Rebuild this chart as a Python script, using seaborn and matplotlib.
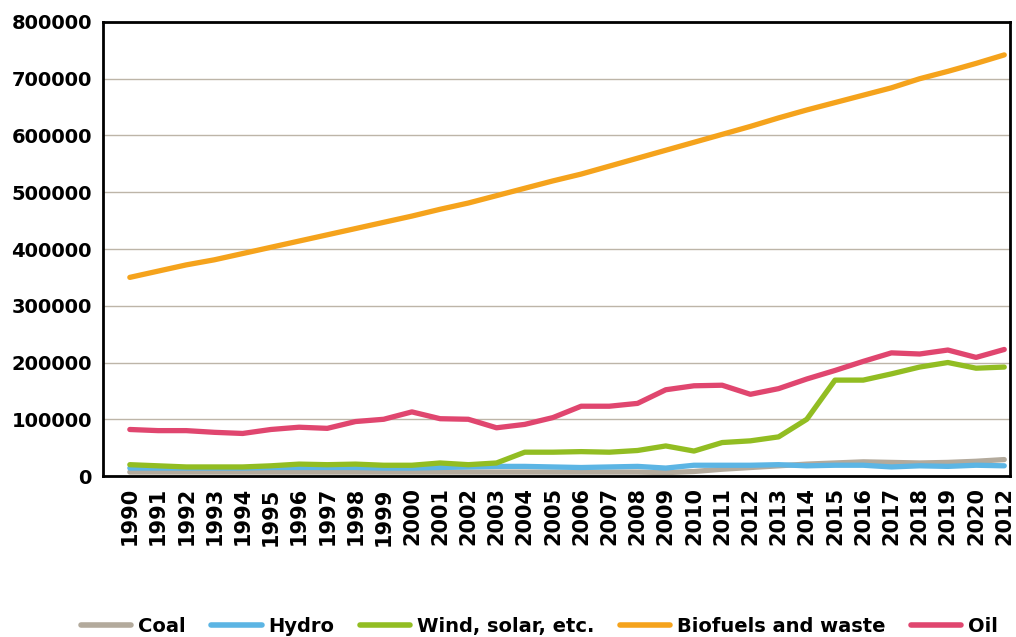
import numpy as np
import pandas as pd
import seaborn as sns
import matplotlib.pyplot as plt

# Data

years = list(range(1990, 2022))
# the source chart labels the last year "2012", kept as is
year_labels = [str(y) for y in range(1990, 2021)] + ["2012"]

coal = [7000, 7000, 7000, 7000, 7000, 7000, 7000, 7000, 7000, 7000,
        7000, 7000, 7000, 7000, 7000, 7000, 7000, 7000, 7000, 6000,
        8000, 12000, 15000, 18000, 21000, 23000, 25000, 24000, 23000, 24000,
        26000, 29000]
hydro = [14000, 14000, 14000, 14000, 14000, 15000, 15000, 15000, 15000, 14000,
         14000, 15000, 16000, 17000, 17000, 16000, 15000, 16000, 17000, 14000,
         19000, 19000, 19000, 20000, 18000, 19000, 19000, 16000, 18000, 17000,
         19000, 18000]
wind = [20000, 18000, 16000, 16000, 16000, 18000, 21000, 20000, 21000, 19000,
        19000, 23000, 20000, 23000, 42000, 42000, 43000, 42000, 45000, 53000,
        44000, 59000, 62000, 69000, 100000, 169000, 169000, 180000, 192000, 200000,
        190000, 192000]
biofuels = [350000, 361000, 372000, 381000, 392000, 403000, 414000, 425000, 436000, 447000,
            458000, 470000, 481000, 494000, 507000, 520000, 532000, 546000, 560000, 574000,
            588000, 602000, 616000, 631000, 645000, 658000, 671000, 684000, 700000, 713000,
            727000, 742000]
oil = [82000, 80000, 80000, 77000, 75000, 82000, 86000, 84000, 96000, 100000,
       113000, 101000, 100000, 85000, 91000, 103000, 123000, 123000, 128000, 152000,
       159000, 160000, 144000, 154000, 171000, 186000, 202000, 217000, 215000, 222000,
       209000, 223000]

series_names = ["Coal", "Hydro", "Wind, solar, etc.", "Biofuels and waste", "Oil"]
colors = ["#b3aa9c", "#5cb5e4", "#92bd22", "#f5a31c", "#e0466f"]

df = pd.DataFrame({"year": years, "Coal": coal, "Hydro": hydro,
                   "Wind, solar, etc.": wind, "Biofuels and waste": biofuels, "Oil": oil})
long_df = df.melt(id_vars="year", var_name="source", value_name="value")

# Plot

sns.set_style("white")
plt.rcParams['font.family'] = ['DejaVu Sans']
plt.rcParams['text.color'] = 'black'
plt.rcParams['xtick.color'] = 'black'
plt.rcParams['ytick.color'] = 'black'

fig = plt.figure(figsize=(10.16, 6.37), dpi=100)
ax = fig.add_axes([0.1014, 0.2527, 0.8926, 0.7128])

sns.lineplot(data=long_df, x="year", y="value", hue="source", hue_order=series_names,
             palette=colors, linewidth=3.8, ax=ax, legend=True, solid_capstyle="round")

ax.set_xlim(1989.05, 2021.2)
ax.set_ylim(0, 800000)
ax.set_yticks(np.arange(0, 800001, 100000))
ax.set_yticklabels([str(v) for v in range(0, 800001, 100000)], fontsize=14,
                   fontweight="heavy", color="black")
ax.set_xticks(years)
ax.set_xticklabels(year_labels, rotation=90, fontsize=15, fontweight="heavy", color="black")
ax.tick_params(axis="both", length=0, pad=8)
ax.set_xlabel("")
ax.set_ylabel("")

ax.yaxis.grid(True, color="#bdb5a8", linewidth=1.0)
ax.set_axisbelow(True)
for sp in ax.spines.values():
    sp.set_color("black")
    sp.set_linewidth(2)

handles, labels = ax.get_legend_handles_labels()
ax.get_legend().remove()
leg = fig.legend(handles, labels, loc="center", bbox_to_anchor=(0.531, 0.017), ncol=5,
                 frameon=False, handlelength=2.6, handletextpad=0.35, columnspacing=1.3,
                 prop={"family": "DejaVu Sans", "weight": "bold", "size": 14})
for txt in leg.get_texts():
    txt.set_color("black")
for line in leg.get_lines():
    line.set_linewidth(4)

fig.savefig("out.png", dpi=100)
